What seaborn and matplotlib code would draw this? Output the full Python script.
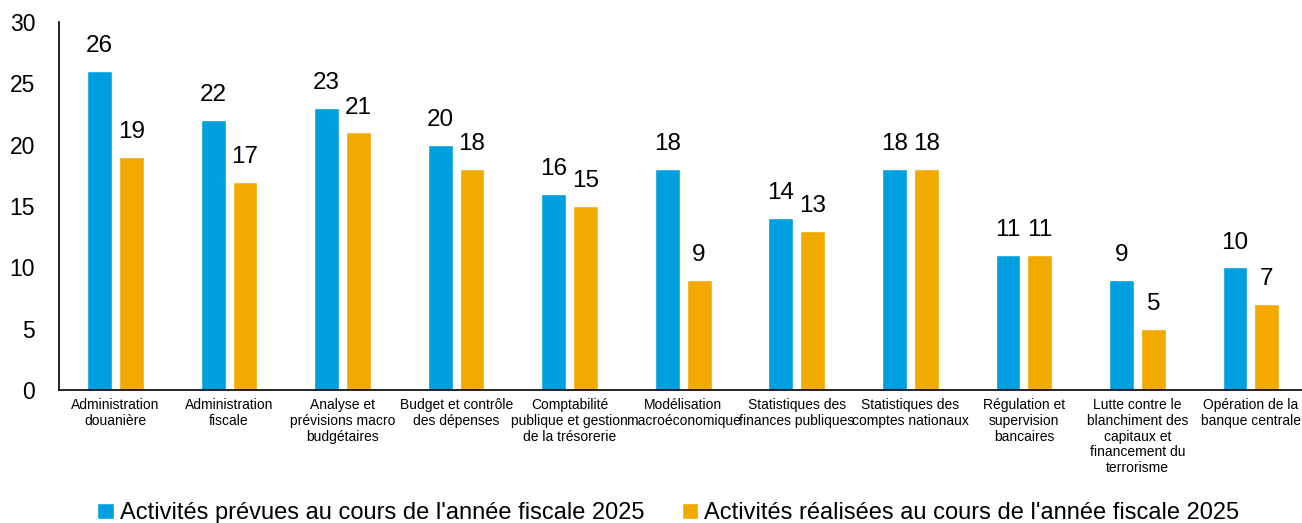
import pandas as pd
import numpy as np
import seaborn as sns
import matplotlib.pyplot as plt

categories = [
    "Administration\ndouanière",
    "Administration\nfiscale",
    "Analyse et\nprévisions macro\nbudgétaires",
    "Budget et contrôle\ndes dépenses",
    "Comptabilité\npublique et gestion\nde la trésorerie",
    "Modélisation\nmacroéconomique",
    "Statistiques des\nfinances publiques",
    "Statistiques des\ncomptes nationaux",
    "Régulation et\nsupervision\nbancaires",
    "Lutte contre le\nblanchiment des\ncapitaux et\nfinancement du\nterrorisme",
    "Opération de la\nbanque centrale",
]
prevues = [26, 22, 23, 20, 16, 18, 14, 18, 11, 9, 10]
realisees = [19, 17, 21, 18, 15, 9, 13, 18, 11, 5, 7]
series = ["Activités prévues au cours de l'année fiscale 2025",
          "Activités réalisées au cours de l'année fiscale 2025"]

df = pd.DataFrame({
    "cat": categories * 2,
    "val": prevues + realisees,
    "serie": [series[0]] * len(categories) + [series[1]] * len(categories),
})

sns.set_style("white")
plt.rcParams['font.family'] = ['Liberation Sans', 'DejaVu Sans']
plt.rcParams['text.color'] = 'black'
plt.rcParams['xtick.color'] = 'black'
plt.rcParams['ytick.color'] = 'black'

fig = plt.figure(figsize=(13.02, 5.23), dpi=100)
ax = fig.add_axes([0.0451, 0.254, 0.9593, 0.704])

sns.barplot(data=df, x="cat", y="val", hue="serie",
            palette=["#009FDF", "#F2A900"], width=0.56, gap=0.22,
            saturation=1, ax=ax)

for c in ax.containers:
    ax.bar_label(c, fmt="%d", padding=10, fontsize=17.5, color="black")

ax.set_ylim(0, 30)
ax.set_yticks(range(0, 31, 5))
ax.set_xlim(-0.5, len(categories) - 0.5)
ax.set_xlabel("")
ax.set_ylabel("")
ax.tick_params(axis="y", labelsize=16.5, length=0, pad=17, labelcolor="black")
ax.tick_params(axis="x", length=0, pad=6, labelcolor="black")
for lab in ax.get_xticklabels():
    lab.set_family(['Liberation Sans Narrow', 'Liberation Sans', 'DejaVu Sans'])
    lab.set_fontsize(10)
    lab.set_linespacing(1.15)
sns.despine(ax=ax, top=True, right=True)
ax.spines["left"].set_color("black")
ax.spines["bottom"].set_color("black")
ax.spines["left"].set_linewidth(1.2)
ax.spines["bottom"].set_linewidth(1.2)

leg = ax.legend(loc="lower center", bbox_to_anchor=(0.488, -0.39), ncol=2,
                frameon=False, fontsize=17, handlelength=0.7, handleheight=0.7,
                handletextpad=0.25, columnspacing=1.6, borderaxespad=0)
for t in leg.get_texts():
    t.set_color("black")

fig.savefig("out.png", dpi=100)
